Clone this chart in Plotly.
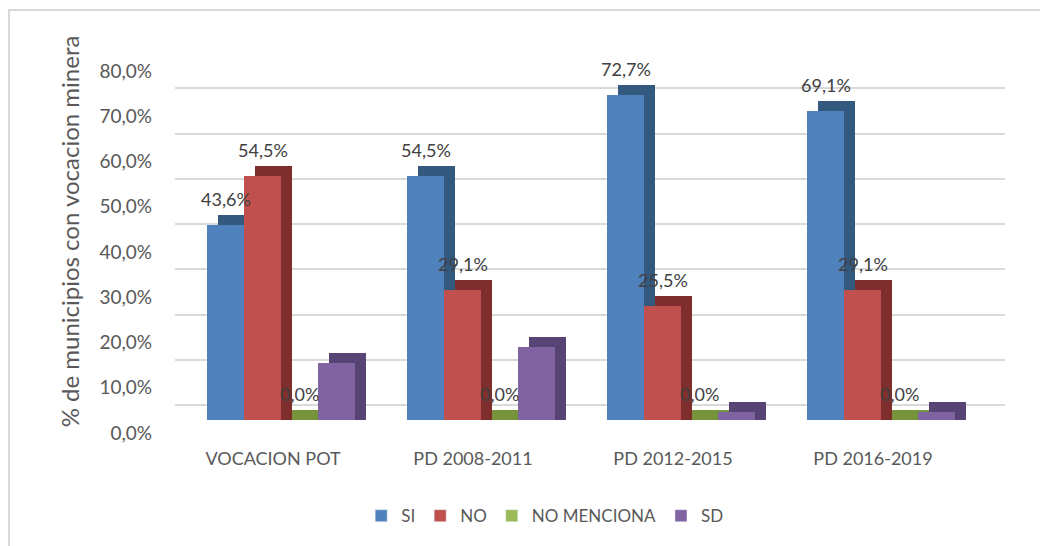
import plotly.graph_objects as go

categories = ["VOCACION POT", "PD 2008-2011", "PD 2012-2015", "PD 2016-2019"]
series_names = ["SI", "NO", "NO MENCIONA", "SD"]
si = [43.6, 54.5, 72.7, 69.1]
no = [54.5, 29.1, 25.5, 29.1]
no_menciona = [0.0, 0.0, 0.0, 0.0]
sd = [12.7, 16.4, 1.8, 1.8]
y_ticks = [0, 10, 20, 30, 40, 50, 60, 70, 80]

series_values = [si, no, no_menciona, sd]
show_labels = [True, True, True, False]
front_colors = ["#4F81BD", "#C0504D", "#9BBB59", "#8064A2"]
front_draw = ["#4F81BD", "#C0504D", "#77933C", "#8064A2"]
depth_colors = ["#34597F", "#7E2F2D", "#77933C", "#574475"]

FONT = "Lato"
GRAY = "#595959"
bar_w = 0.185
group_start = -0.37
dx = 0.055      # depth shift (category units)
dy = 2.24       # depth shift (value units on the bar axis)

xs = list(range(len(categories)))
fig = go.Figure()

# legend entries (also anchor the gridline axis 'y')
for i, name in enumerate(series_names):
    fig.add_trace(go.Bar(
        x=[None], y=[None], name=name,
        marker=dict(color=front_colors[i]),
        xaxis="x", yaxis="y", showlegend=True,
    ))

# depth (side/top faces) first
for i, vals in enumerate(series_values):
    fig.add_trace(go.Bar(
        x=xs, y=[v + dy for v in vals], base=0,
        offset=group_start + i * bar_w + dx, width=bar_w,
        marker=dict(color=depth_colors[i], line=dict(width=0)),
        xaxis="x", yaxis="y2", showlegend=False, hoverinfo="skip",
    ))

# front faces
for i, vals in enumerate(series_values):
    fig.add_trace(go.Bar(
        x=xs, y=vals, name=series_names[i],
        offset=group_start + i * bar_w, width=bar_w,
        marker=dict(color=front_draw[i], line=dict(width=0)),
        xaxis="x", yaxis="y2", showlegend=False,
    ))

annotations = []
for i, vals in enumerate(series_values):
    if not show_labels[i]:
        continue
    for j, v in enumerate(vals):
        annotations.append(dict(
            x=xs[j] + group_start + (i + 0.5) * bar_w, y=v,
            xref="x", yref="y2",
            text=f"{v:.1f}".replace(".", ",") + "%",
            showarrow=False, yanchor="bottom", yshift=13,
            font=dict(family=FONT, size=18, color="#404040"),
        ))

# page body has an 8px margin; figure sized to fit the window
W, H = 1040, 538
L, R, T, B = 167, 43, 35, 126
pw, ph = W - L - R, H - T - B

fig.update_layout(
    width=W, height=H,
    margin=dict(l=L, r=R, t=T, b=B, autoexpand=False),
    paper_bgcolor="white", plot_bgcolor="white",
    barmode="overlay",
    font=dict(family=FONT, color=GRAY),
    xaxis=dict(
        range=[-0.53, 3.62], tickvals=xs, ticktext=categories,
        showgrid=False, zeroline=False, showline=False, ticks="",
        tickfont=dict(family=FONT, size=18, color=GRAY),
        ticklabelstandoff=26, ticklabelshift=-8, automargin=False,
    ),
    yaxis=dict(
        range=[-3.31, 80], tickvals=y_ticks,
        ticktext=[f"{t:.1f}".replace(".", ",") + "%" for t in y_ticks],
        showgrid=True, gridcolor="#D9D9D9", gridwidth=2,
        zeroline=False, showline=False, ticks="",
        tickfont=dict(family=FONT, size=19, color=GRAY),
        ticklabelstandoff=22, ticklabelshift=28, automargin=False,
        title=dict(text="% de municipios con vocacion minera",
                   font=dict(family=FONT, size=24, color=GRAY), standoff=12),
    ),
    yaxis2=dict(range=[0, 84.3], overlaying="y", visible=False),
    legend=dict(
        orientation="h", x=0.446, xanchor="center", y=-0.255, yanchor="middle",
        font=dict(family=FONT, size=17, color=GRAY), traceorder="normal",
    ),
    annotations=annotations,
    shapes=[dict(
        type="rect", xref="paper", yref="paper",
        x0=(1 - L) / pw, x1=(W + 5 - L) / pw,
        y0=(H - B - (H + 5)) / ph, y1=(H - B - 2) / ph,
        line=dict(color="#D9D9D9", width=2), layer="below",
    )],
    bargap=0,
)

fig.write_html("out.html")
